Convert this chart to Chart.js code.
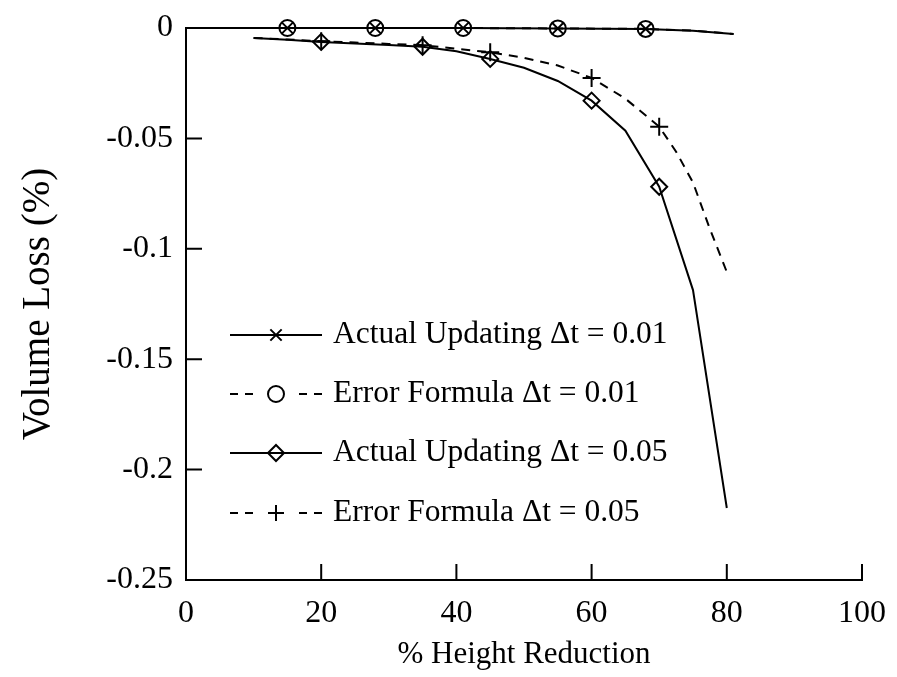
<!DOCTYPE html>
<html>
<head>
<meta charset="utf-8">
<script src="https://cdn.jsdelivr.net/npm/chart.js@4/dist/chart.umd.min.js"></script>
<style>
  html, body { margin: 0; padding: 0; background: #fff; }
  #wrap { width: 897px; height: 677px; }
</style>
</head>
<body>
<div id="wrap"><canvas id="volume"></canvas></div>
<script>
// values
const xFine = [0, 15, 28, 41, 55, 68, 75, 81];
const actualFine = [0, 0, 0, 0, -0.0002, -0.0004, -0.0012, -0.0027];
const errorFine = [0, 0, 0, 0, -0.0002, -0.0004, -0.0012, -0.0027];
const fineMarks = [0, 1, 1, 1, 1, 1, 0, 0];

const xActualCoarse = [10, 15, 20, 25, 30, 35, 40, 45, 50, 55, 60, 65, 70, 75, 80];
const actualCoarse = [-0.0045, -0.0053, -0.0063, -0.007, -0.0077, -0.0085, -0.0105, -0.014, -0.018, -0.024, -0.0329, -0.0465, -0.0719, -0.1187, -0.2174];
const actualCoarseMarks = [0, 0, 1, 0, 0, 1, 0, 1, 0, 0, 1, 0, 1, 0, 0];

const xErrorCoarse = [10, 15, 20, 25, 30, 35, 40, 45, 50, 55, 60, 65, 70, 72.5, 75, 77.5, 80];
const errorCoarse = [-0.0045, -0.0052, -0.006, -0.0066, -0.0072, -0.0078, -0.0094, -0.011, -0.0135, -0.017, -0.0226, -0.032, -0.0447, -0.056, -0.07, -0.091, -0.1105];
const errorCoarseMarks = [0, 0, 1, 0, 0, 1, 0, 1, 0, 0, 1, 0, 1, 0, 0, 0, 0];

const labels = ['Actual Updating \u0394t = 0.01', 'Error Formula \u0394t = 0.01',
                'Actual Updating \u0394t = 0.05', 'Error Formula \u0394t = 0.05'];
const xTicks = [0, 20, 40, 60, 80, 100];
const yTicks = [0, -0.05, -0.1, -0.15, -0.2, -0.25];

const FONT = "'Liberation Serif', 'DejaVu Serif', serif";
const pts = (xs, ys) => xs.map((x, i) => ({ x: x, y: ys[i] }));

function series(label, xs, ys, marks, style, radius, dash) {
    return {
        label: label,
        data: pts(xs, ys),
        showLine: true,
        clip: false,
        borderColor: '#000',
        backgroundColor: 'rgba(0,0,0,0)',
        borderWidth: 2,
        borderDash: dash,
        pointStyle: style,
        pointRadius: marks.map(m => m ? radius : 0),
        pointBorderWidth: 2,
        pointBorderColor: '#000',
        pointBackgroundColor: 'rgba(0,0,0,0)',
        tension: 0
    };
}

// inward tick marks like the original plot
const innerTicks = {
    id: 'innerTicks',
    afterDraw(chart) {
        const ctx = chart.ctx, a = chart.chartArea;
        const xs = chart.scales.x, ys = chart.scales.y;
        ctx.save();
        ctx.strokeStyle = '#000';
        ctx.lineWidth = 2;
        ctx.beginPath();
        xTicks.slice(1).forEach(v => {
            const px = xs.getPixelForValue(v);
            ctx.moveTo(px, a.bottom);
            ctx.lineTo(px, a.bottom - 16);
        });
        yTicks.slice(1, -1).forEach(v => {
            const py = ys.getPixelForValue(v);
            ctx.moveTo(a.left, py);
            ctx.lineTo(a.left + 16, py);
        });
        ctx.stroke();
        ctx.restore();
    }
};

// legend drawn inside the plot: line sample, marker, text
const insideLegend = {
    id: 'insideLegend',
    afterDraw(chart) {
        const ctx = chart.ctx;
        const x0 = 230, x1 = 322, textX = 333;
        const rows = [335, 394, 453, 513];
        ctx.save();
        chart.data.datasets.forEach((ds, i) => {
            const y = rows[i];
            ctx.strokeStyle = '#000';
            ctx.lineWidth = 1.8;
            ctx.beginPath();
            if (ds.borderDash) {
                ctx.setLineDash([8, 7]);
                ctx.moveTo(x0, y); ctx.lineTo(x0 + 23, y);
                ctx.moveTo(x1 - 23, y); ctx.lineTo(x1, y);
            } else {
                ctx.setLineDash([]);
                ctx.moveTo(x0, y); ctx.lineTo(x1, y);
            }
            ctx.stroke();
            ctx.setLineDash([]);
            ctx.lineWidth = 2;
            ctx.fillStyle = 'rgba(0,0,0,0)';
            Chart.helpers.drawPoint(ctx, {
                pointStyle: ds.pointStyle, radius: 8, borderWidth: 2
            }, (x0 + x1) / 2, y);
            ctx.fillStyle = '#000';
            ctx.font = '31.5px ' + FONT;
            ctx.textBaseline = 'middle';
            ctx.fillText(ds.label, textX, y);
        });
        ctx.restore();
    }
};

new Chart('volume', {
    type: 'scatter',
    data: {
        datasets: [
            series(labels[0], xFine, actualFine, fineMarks, 'crossRot', 8, undefined),
            series(labels[1], xFine, errorFine, fineMarks, 'circle', 8, [9, 7]),
            series(labels[2], xActualCoarse, actualCoarse, actualCoarseMarks, 'rectRot', 8, undefined),
            series(labels[3], xErrorCoarse, errorCoarse, errorCoarseMarks, 'cross', 9, [9, 7])
        ]
    },
    options: {
        responsive: true,
        maintainAspectRatio: false,
        animation: false,
        layout: { padding: { top: 28, right: 35, left: 0, bottom: 0 } },
        plugins: { legend: { display: false }, tooltip: { enabled: false } },
        scales: {
            x: {
                type: 'linear', min: 0, max: 100,
                afterFit: s => { s.height = 97; },
                afterBuildTicks: s => { s.ticks = xTicks.map(v => ({ value: v })); },
                grid: { display: false },
                border: { display: true, color: '#000', width: 2 },
                ticks: { color: '#000', padding: 6, maxRotation: 0, font: { family: FONT, size: 32 } },
                title: { display: true, text: '% Height Reduction', color: '#000', padding: { top: 2 }, font: { family: FONT, size: 31 } }
            },
            y: {
                type: 'linear', min: -0.25, max: 0,
                afterFit: s => { s.width = 186; },
                afterBuildTicks: s => { s.ticks = yTicks.map(v => ({ value: v })); },
                grid: { display: false },
                border: { display: true, color: '#000', width: 2 },
                ticks: {
                    color: '#000', padding: 5, font: { family: FONT, size: 32 },
                    callback: v => String(Number(v.toFixed(2)))
                },
                title: { display: true, text: 'Volume Loss (%)', color: '#000', padding: { top: 15, bottom: 0 }, font: { family: FONT, size: 39 } }
            }
        }
    },
    plugins: [innerTicks, insideLegend]
});
</script>
</body>
</html>
